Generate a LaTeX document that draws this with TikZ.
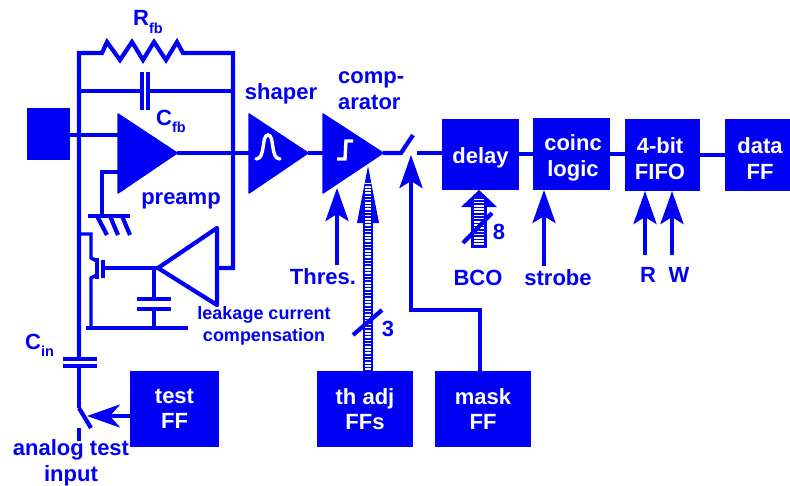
\documentclass[tikz,border=0pt]{standalone}
\usepackage{fontspec}
\setmainfont{Liberation Sans}
\usetikzlibrary{arrows.meta}
\definecolor{bl}{RGB}{0,0,245}
\newcommand{\subt}[1]{\raisebox{-0.32em}{\fontsize{14.5}{14.5}\selectfont\bfseries #1}}
\tikzset{
  x=1pt,y=-1pt,
  wire/.style={draw=bl,line width=4.2pt,line cap=butt,line join=miter},
  thin wire/.style={draw=bl,line width=3.4pt,line join=miter},
  solid tri/.style={fill=bl,draw=bl,line width=1.5pt,line join=round},
  block/.style={fill=bl,inner sep=0pt,align=center,text=white,font=\fontsize{22}{25.5}\selectfont\bfseries},
  btxt/.style={inner sep=0pt,align=center,text=white,font=\fontsize{22}{26}\selectfont\bfseries,yshift=-4pt},
  lab/.style={text=bl,inner sep=0pt,align=center,font=\fontsize{22}{26}\selectfont\bfseries},
  smalllab/.style={text=bl,inner sep=0pt,align=center,font=\fontsize{18}{22}\selectfont\bfseries},
  ctl/.style={wire,-{Stealth[length=33pt,width=23pt,inset=7pt]}},
  bus/.style={draw=bl,line width=10pt},
  busfill/.style={draw=white,line width=6pt,dash pattern=on 1.6pt off 1.6pt},
}
\begin{document}
\begin{tikzpicture}
\useasboundingbox (0,0) rectangle (790,485);
% blocks
\node[block,minimum width=43pt,minimum height=52pt] (pad) at (48.5,134) {};
\node[block,minimum width=77pt,minimum height=71pt,label={[btxt]center:delay}] (delay) at (480.5,154) {};
\node[block,minimum width=77pt,minimum height=72pt,label={[btxt,xshift=1.5pt]center:coinc\\logic}] (coinc) at (571.5,154) {};
\node[block,minimum width=75pt,minimum height=72pt,label={[btxt,xshift=-2.5pt]center:4-bit\\FIFO}] (fifo) at (662.5,155) {};
\node[block,minimum width=65pt,minimum height=72pt,label={[btxt,xshift=2.5pt]center:data\\FF}] (data) at (757.5,155) {};
\node[block,minimum width=89pt,minimum height=76pt] (test) at (174.5,409) {test\\FF};
\node[block,minimum width=96pt,minimum height=76pt] (thadj) at (365,409) {th adj\\FFs};
\node[block,minimum width=96pt,minimum height=76pt] (mask) at (483,409) {mask\\FF};
% labels
\node[lab,anchor=west] (rfb) at (133,22) {R\subt{fb}};
\node[lab,anchor=west] (cfb) at (156,121) {C\subt{fb}};
\node[lab] (preamp) at (181,201) {preamp};
\node[lab] (shaper) at (281,94) {shaper};
\node[lab,align=left,anchor=west] (compa) at (338,91) {comp-\\arator};
\node[lab] (thres) at (323,277) {Thres.};
\node[lab] (bco) at (478,278) {BCO};
\node[lab] (strobe) at (558,278) {strobe};
\node[lab] (rl) at (648,275) {R};
\node[lab] (wl) at (679,275) {W};
\node[lab] (eight) at (499,232) {8};
\node[lab] (three) at (388,329) {3};
\node[lab,anchor=west] (cin) at (25,345) {C\subt{in}};
\node[lab] (analog) at (71,463) {analog test\\input};
\node[smalllab] (leak) at (264,326) {leakage current\\compensation};
% coordinates
\coordinate (inL) at (79,53);
\coordinate (inR) at (233,53);
\coordinate (capL) at (79,91);
\coordinate (capR) at (233,91);
\coordinate (pa1) at (118,114);
\coordinate (pa2) at (118,193);
\coordinate (pa3) at (177,153);
\coordinate (pain) at (118,135);
\coordinate (pagnd) at (118,172);
\coordinate (sh1) at (249,114);
\coordinate (sh2) at (249,193);
\coordinate (sh3) at (308,153);
\coordinate (co1) at (323,114);
\coordinate (co2) at (323,193);
\coordinate (co3) at (383,153);
\coordinate (sw1) at (401,153);
\coordinate (sw2) at (413,135);
\coordinate (sw3) at (417,153);
\coordinate (am1) at (158,268);
\coordinate (am2) at (217,228);
\coordinate (am3) at (217,305);
\coordinate (amo) at (217,268);
\coordinate (fbb) at (233,268);
% triangles
\path[solid tri] (pa1) -- (pa3) -- (pa2) -- cycle;
\path[solid tri] (sh1) -- (sh3) -- (sh2) -- cycle;
\path[solid tri] (co1) -- (co3) -- (co2) -- cycle;
\draw[wire,line join=round] (am1) -- (am2) -- (am3) -- cycle;
% glyphs in amps
\draw[white,line width=3.4pt,line cap=round] (256,159) .. controls (266,159) and (261,135) .. (268,135) .. controls (275,135) and (270,159) .. (280,159);
\draw[white,line width=3.4pt,line join=miter] (337,159) -- (345,159) -- (346,141) -- (353,141);
% main signal path
\draw[wire] (pad.east |- pain) -- (pain);
\draw[wire] (pa3) -- (sh1 |- pa3);
\draw[wire] (sh3) -- (co1 |- sh3);
\draw[wire] (co3) -- (sw1) -- (sw2);
\draw[wire] (sw3) -- (delay.west |- sw3);
\draw[wire] (delay.east) -- (coinc.west);
\draw[wire] (coinc.east) -- (fifo.west |- coinc.east);
\draw[wire] (fifo.east) -- (data.west);
% feedback network
\coordinate (rs) at (102,53);
\coordinate (re) at (183,53);
\draw[wire,line join=miter,miter limit=2] (79,359) -- (inL) -- (rs) -- (107,42) -- (120,60) -- (132,42) -- (143,60) -- (154,42) -- (166,60) -- (177,42) -- (re) -- (inR) -- (fbb) -- (amo);
\coordinate (cfa) at (142,91);
\coordinate (cfc) at (148,91);
\draw[wire] (capL) -- (cfa);
\draw[wire] (cfc) -- (capR);
\draw[wire] (142,72) -- (142,110);
\draw[wire] (148,72) -- (148,110);
% preamp ground
\coordinate (gnd) at (102,216);
\draw[thin wire] (pagnd) -- (gnd |- pagnd) -- (gnd);
\draw[wire] (88,216) -- (130,216);
\draw[wire] (97,216) -- (107,235);
\draw[wire] (110,216) -- (118,235);
\draw[wire] (122,216) -- (130,235);
% leakage compensation transistor
\coordinate (gt) at (105,268);
\draw[wire] (am1) -- (gt);
\draw[wire] (103,260) -- (103,278);
\draw[thin wire] (97,258) -- (97,279);
\draw[thin wire] (79,234) -- (91,234) -- (91,258) -- (97,261);
\draw[thin wire] (97,275) -- (91,278) -- (91,328);
\coordinate (bara) at (86,328);
\coordinate (barb) at (188,328);
\draw[wire] (bara) -- (barb);
\coordinate (cap1) at (154,299);
\coordinate (cap2) at (154,309);
\draw[wire] (154,268) -- (cap1);
\draw[wire] (cap2) -- (154,328);
\draw[wire] (137,299) -- (171,299);
\draw[wire] (137,309) -- (171,309);
% input capacitor and test switch
\draw[wire] (63,359) -- (97,359);
\draw[wire] (63,366) -- (97,366);
\coordinate (tsw) at (79,408);
\draw[wire] (79,366) -- (tsw);
\draw[wire] (tsw) -- (91,428);
\draw[wire] (79,428) -- (79,441);
\coordinate (tstip) at (87,416);
\draw[wire,-{Stealth[length=33pt,width=23pt,inset=10pt]}] (test.west |- tstip) -- (tstip);
% control arrows
\coordinate (thtip) at (337,188);
\draw[ctl] (337,265) -- (thtip);
\coordinate (swtip) at (411,155);
\coordinate (mk1) at (411,310);
\coordinate (mk2) at (480,310);
\draw[ctl] (mask.north -| mk2) -- (mk2) -- (mk1) -- (swtip);
\coordinate (sttip) at (544,190);
\draw[ctl] (544,266) -- (sttip);
\coordinate (rtip) at (645,191);
\draw[ctl] (645,255) -- (rtip);
\coordinate (wtip) at (672,191);
\draw[ctl] (672,255) -- (wtip);
% threshold-adjust bus
\coordinate (tab) at (368,371);
\coordinate (tah) at (368,222);
\coordinate (tat) at (368,166);
\draw[bus] (tab) -- (tah);
\fill[bl] (tat) -- (379,223) -- (357,223) -- cycle;
\draw[busfill] (368,370) -- (368,183);
\draw[wire] (353,335) -- (382,310);
% BCO bus
\coordinate (bcb) at (479,248);
\coordinate (bch) at (479,206);
\coordinate (bct) at (479,190);
\draw[draw=bl,line width=16pt] (bcb) -- (bch);
\fill[bl] (bct) -- (497,207) -- (461,207) -- cycle;
\draw[draw=white,line width=10pt,dash pattern=on 1.6pt off 1.6pt] (479,245) -- (479,198);
\draw[wire] (463,243) -- (492,213);
\end{tikzpicture}
\end{document}
